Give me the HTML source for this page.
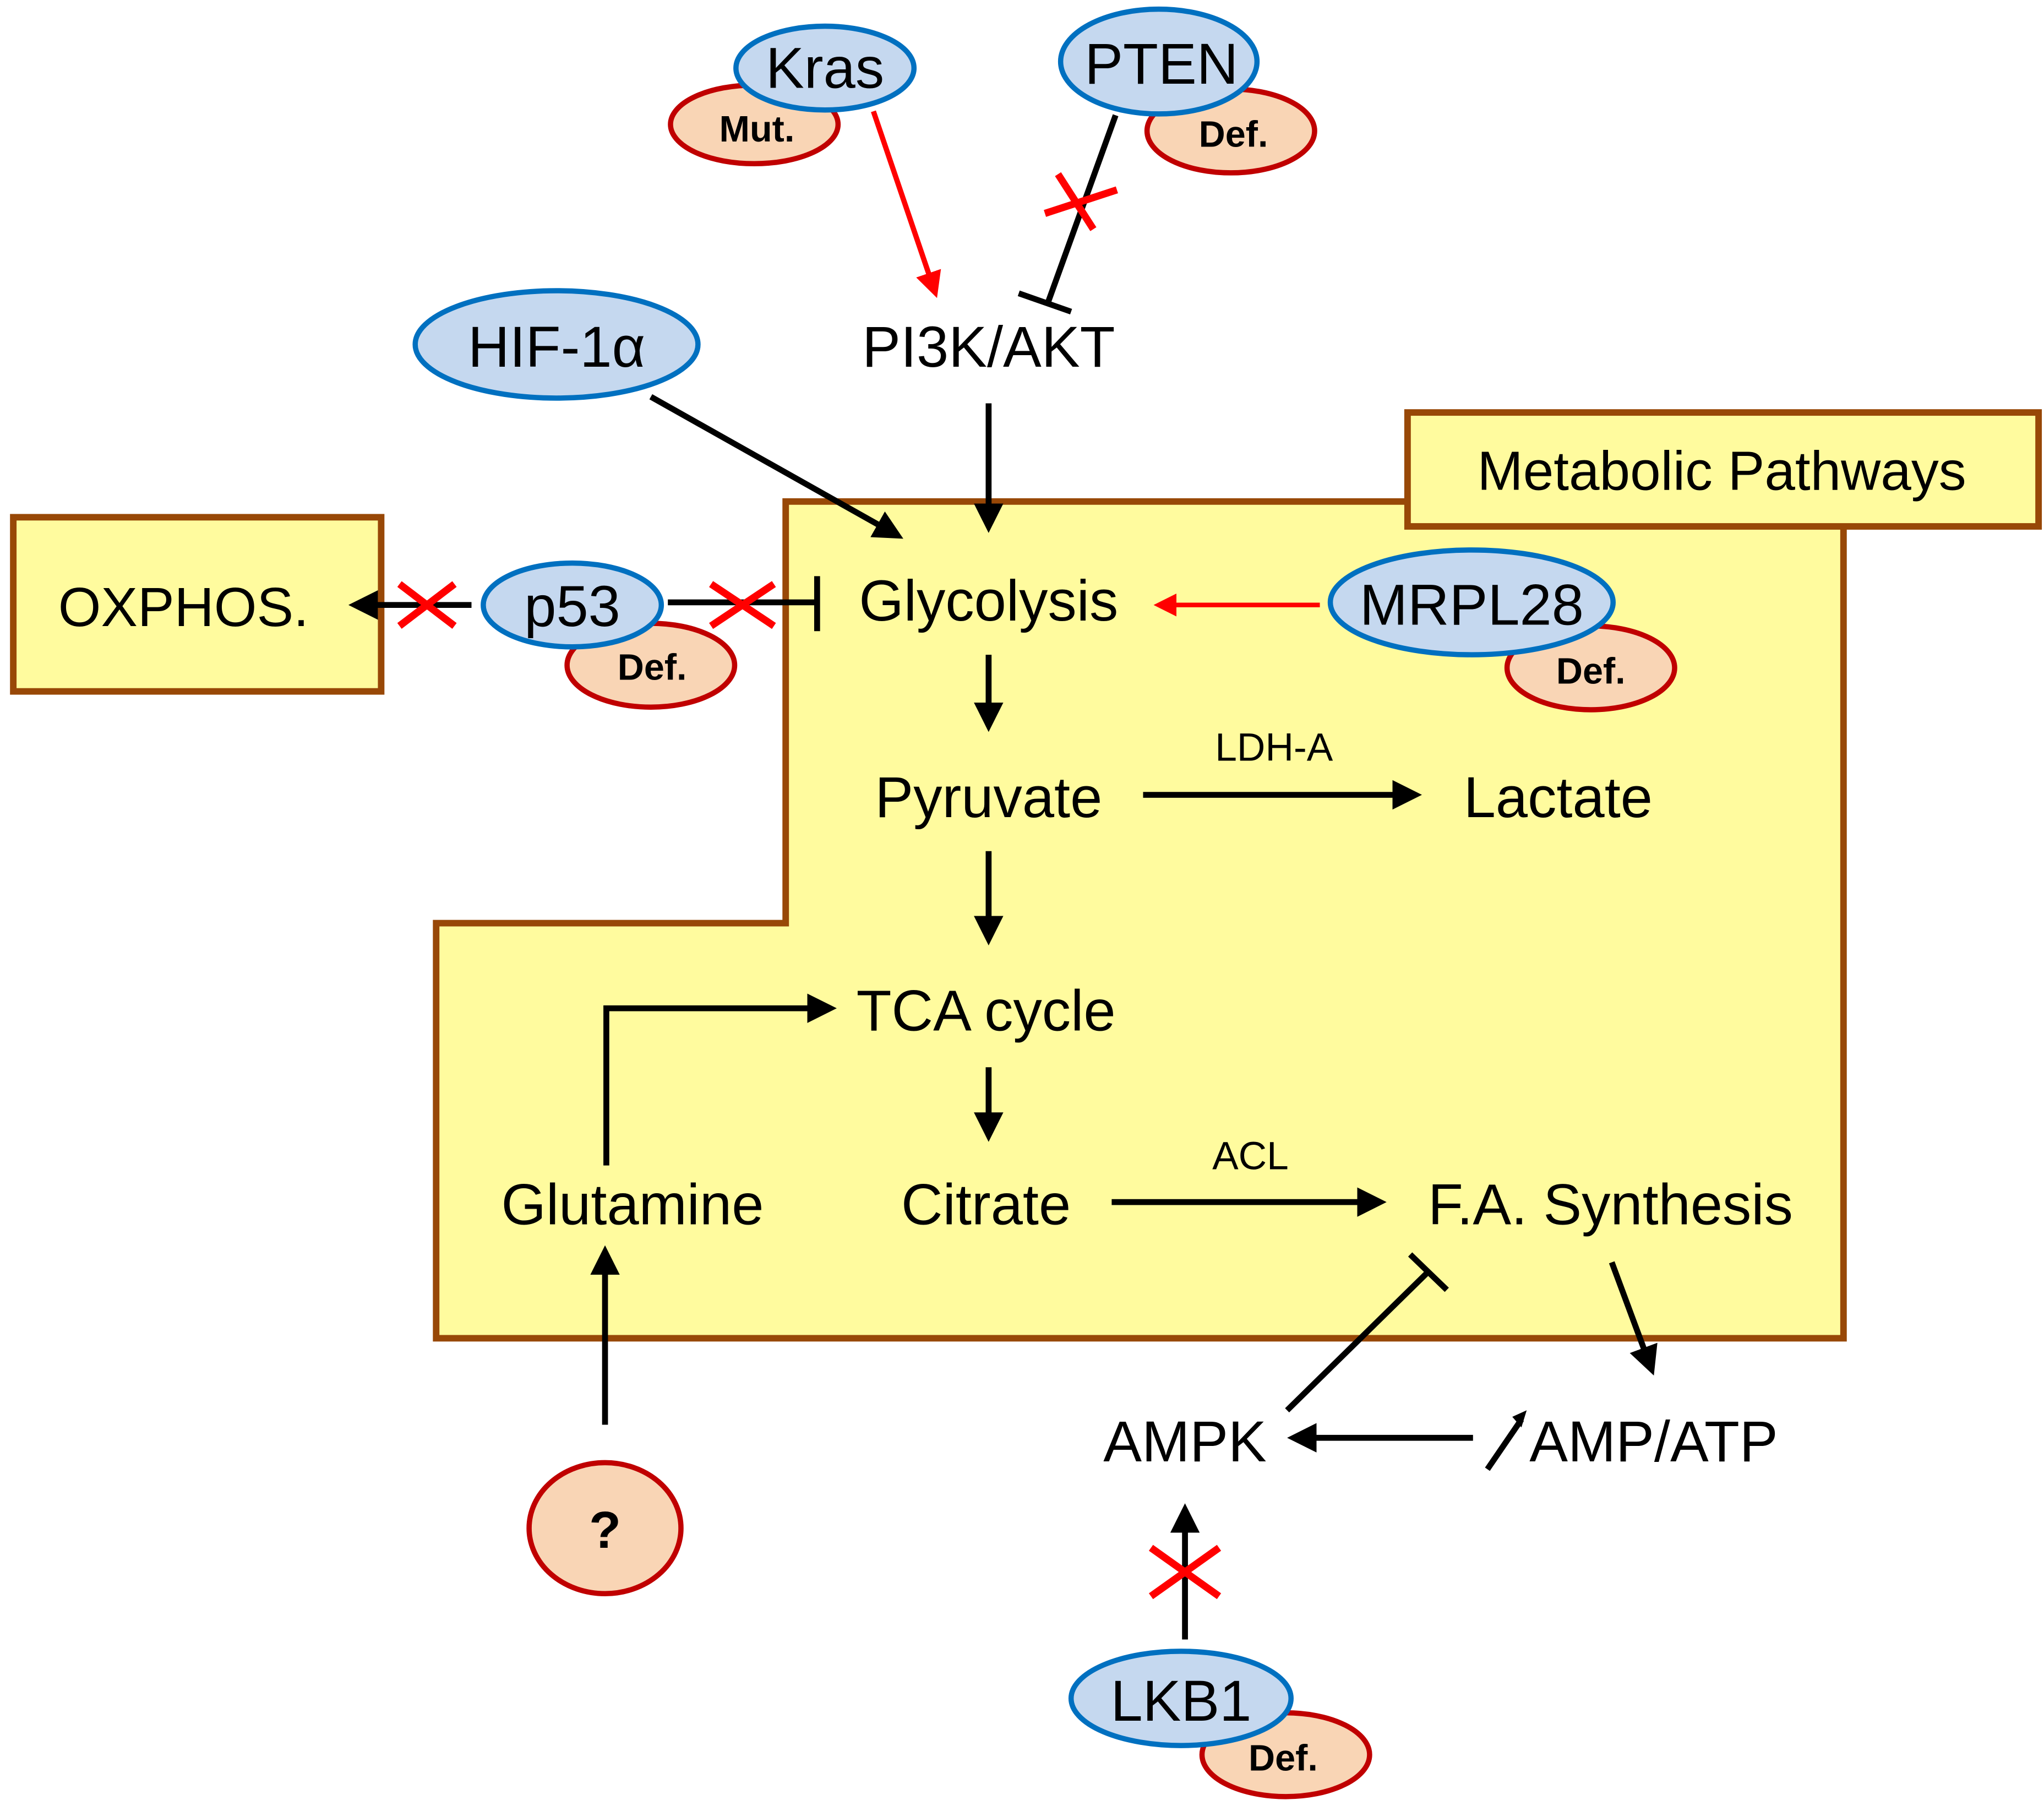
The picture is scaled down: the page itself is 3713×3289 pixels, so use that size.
<!DOCTYPE html>
<html><head><meta charset="utf-8"><style>
html,body{margin:0;padding:0;background:#fff}
svg{display:block}
text{font-family:"Liberation Sans",sans-serif;fill:#000}
</style></head><body>
<svg width="3713" height="3289" viewBox="0 0 1561 1383" xmlns="http://www.w3.org/2000/svg">
<defs>
<marker id="ab" markerWidth="6" markerHeight="6" refX="3" refY="3" orient="auto" markerUnits="strokeWidth"><path d="M0,0.5 L5,3 L0,5.5z" fill="#000"/></marker>
<marker id="ar" markerWidth="6" markerHeight="6" refX="3" refY="3" orient="auto" markerUnits="strokeWidth"><path d="M0,0.5 L5,3 L0,5.5z" fill="#f00"/></marker>
</defs>
<polygon points="600,383 1408,383 1408,1022 333,1022 333,705 600,705" fill="#FFFB9E" stroke="#984807" stroke-width="5"/>
<rect x="1075" y="315" width="482" height="87" fill="#FFFB9E" stroke="#984807" stroke-width="5"/>
<rect x="10" y="395" width="281" height="133" fill="#FFFB9E" stroke="#984807" stroke-width="5"/>
<text x="1315" y="374" font-size="42" text-anchor="middle">Metabolic Pathways</text>
<text x="140" y="478" font-size="42" text-anchor="middle">OXPHOS.</text>

<g stroke="#000" stroke-width="4.5" fill="none">
<line x1="755" y1="308" x2="755" y2="398" marker-end="url(#ab)"/>
<line x1="497" y1="303" x2="682" y2="407" marker-end="url(#ab)"/>
<line x1="755" y1="500" x2="755" y2="550" marker-end="url(#ab)"/>
<line x1="755" y1="650" x2="755" y2="713" marker-end="url(#ab)"/>
<line x1="755" y1="815" x2="755" y2="863" marker-end="url(#ab)"/>
<line x1="873" y1="607" x2="1077" y2="607" marker-end="url(#ab)"/>
<line x1="849" y1="918" x2="1050" y2="918" marker-end="url(#ab)"/>
<polyline points="463,890 463,770 630,770" marker-end="url(#ab)"/>
<line x1="462" y1="1088" x2="462" y2="960" marker-end="url(#ab)"/>
<line x1="1231" y1="964" x2="1260" y2="1042" marker-end="url(#ab)"/>
<line x1="1125" y1="1098" x2="992" y2="1098" marker-end="url(#ab)"/>
<line x1="905" y1="1252" x2="905" y2="1157" marker-end="url(#ab)"/>
<line x1="983" y1="1077" x2="1090" y2="972"/>
<line x1="1077" y1="958" x2="1105" y2="985"/>
<line x1="1136" y1="1122" x2="1162" y2="1084"/>
<path d="M1155,1082 L1166,1077 L1162,1090z" fill="#000" stroke="none"/>
<line x1="852" y1="88" x2="800" y2="232"/>
<line x1="778" y1="224" x2="818" y2="238"/>
<line x1="510" y1="460" x2="622" y2="460"/>
<line x1="624" y1="440" x2="624" y2="482"/>
<line x1="360" y1="462" x2="275" y2="462" marker-end="url(#ab)"/>
</g>
<line x1="667" y1="85" x2="713" y2="220" stroke="#f00" stroke-width="4" marker-end="url(#ar)"/>
<line x1="1008" y1="462" x2="888" y2="462" stroke="#f00" stroke-width="3.5" marker-end="url(#ar)"/>
<g stroke="#f00" stroke-width="5.5">
<line x1="798" y1="163" x2="853" y2="145"/><line x1="808" y1="133" x2="835" y2="175"/>
<line x1="305" y1="446" x2="347" y2="478"/><line x1="305" y1="478" x2="347" y2="446"/>
<line x1="543" y1="446" x2="591" y2="478"/><line x1="543" y1="478" x2="591" y2="446"/>
<line x1="879" y1="1182" x2="931" y2="1219"/><line x1="879" y1="1219" x2="931" y2="1182"/>
</g>
<g stroke-width="4">
<ellipse cx="576" cy="95" rx="64" ry="30" fill="#F9D5B5" stroke="#C00000"/>
<ellipse cx="630" cy="52" rx="68" ry="32" fill="#C5D8EF" stroke="#0070C0"/>
<ellipse cx="940" cy="100" rx="64" ry="32" fill="#F9D5B5" stroke="#C00000"/>
<ellipse cx="885" cy="47" rx="75" ry="40" fill="#C5D8EF" stroke="#0070C0"/>
<ellipse cx="425" cy="263" rx="108" ry="41" fill="#C5D8EF" stroke="#0070C0"/>
<ellipse cx="497" cy="508" rx="64" ry="32" fill="#F9D5B5" stroke="#C00000"/>
<ellipse cx="437" cy="462" rx="68" ry="32" fill="#C5D8EF" stroke="#0070C0"/>
<ellipse cx="1215" cy="510" rx="64" ry="32" fill="#F9D5B5" stroke="#C00000"/>
<ellipse cx="1124" cy="460" rx="108" ry="40" fill="#C5D8EF" stroke="#0070C0"/>
<ellipse cx="982" cy="1340" rx="64" ry="32" fill="#F9D5B5" stroke="#C00000"/>
<ellipse cx="902" cy="1297" rx="84" ry="36" fill="#C5D8EF" stroke="#0070C0"/>
<ellipse cx="462" cy="1167" rx="58" ry="50" fill="#F9D5B5" stroke="#C00000"/>
</g>
<g font-size="44" text-anchor="middle">
<text x="630" y="67">Kras</text>
<text x="887" y="64">PTEN</text>
<text x="425" y="280">HIF-1α</text>
<text x="437" y="478">p53</text>
<text x="1124" y="477">MRPL28</text>
<text x="902" y="1314">LKB1</text>
<text x="755" y="280">PI3K/AKT</text>
<text x="755" y="474">Glycolysis</text>
<text x="755" y="624">Pyruvate</text>
<text x="1190" y="624">Lactate</text>
<text x="753" y="787">TCA cycle</text>
<text x="753" y="935">Citrate</text>
<text x="483" y="935">Glutamine</text>
<text x="1230" y="935">F.A. Synthesis</text>
<text x="905" y="1116">AMPK</text>
<text x="1263" y="1116">AMP/ATP</text>
</g>
<g font-size="30" text-anchor="middle">
<text x="973" y="581">LDH-A</text>
<text x="955" y="893">ACL</text>
</g>
<g font-size="28" font-weight="bold" text-anchor="middle">
<text x="578" y="108">Mut.</text>
<text x="942" y="112">Def.</text>
<text x="498" y="519">Def.</text>
<text x="1215" y="522">Def.</text>
<text x="980" y="1352">Def.</text>
<text x="462" y="1182" font-size="40">?</text>
</g>
</svg>
</body></html>
